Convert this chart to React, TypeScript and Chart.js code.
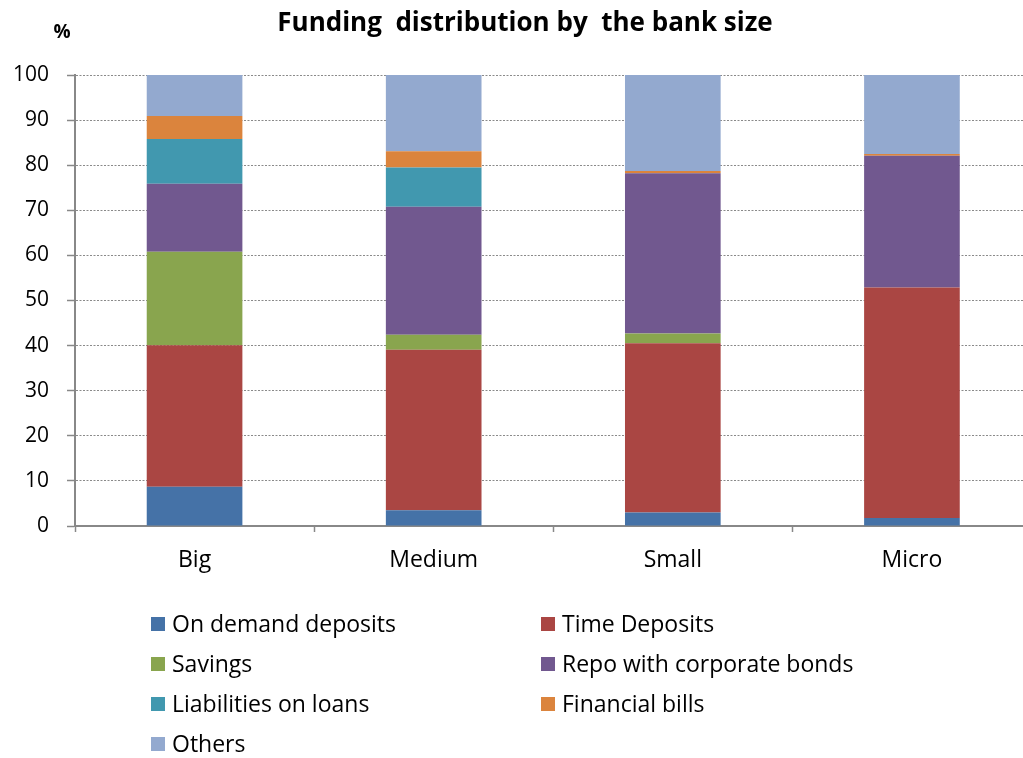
import React, { useEffect, useRef } from "react";
import { Chart, registerables } from "chart.js";

Chart.register(...registerables);

const categories = ["Big", "Medium", "Small", "Micro"];
const onDemandDeposits = [8.7, 3.5, 3.0, 1.8];
const timeDeposits = [31.4, 35.6, 37.5, 51.1];
const savings = [20.7, 3.3, 2.2, 0];
const repoCorporateBonds = [15.1, 28.4, 35.5, 29.2];
const liabilitiesOnLoans = [9.9, 8.7, 0, 0];
const financialBills = [5.1, 3.6, 0.5, 0.4];
const others = [9.1, 16.9, 21.3, 17.5];
const yTicks = [0, 10, 20, 30, 40, 50, 60, 70, 80, 90, 100];

const titleText = "Funding  distribution by  the bank size";
const unitText = "%";
const FONT = "'Open Sans', sans-serif";

const textPlugin = {
  id: "texts",
  afterDraw(chart: any) {
    const ctx = chart.ctx;
    ctx.save();
    ctx.fillStyle = "#000";
    ctx.textBaseline = "middle";
    ctx.textAlign = "center";
    ctx.font = `bold 26px ${FONT}`;
    ctx.fillText(titleText, 525, 24);
    ctx.font = `bold 19px ${FONT}`;
    ctx.fillText(unitText, 62, 33);

    // legend, two columns, row-major
    const ds = chart.data.datasets;
    ctx.font = `23px ${FONT}`;
    ctx.textAlign = "left";
    for (let i = 0; i < ds.length; i++) {
      const col = i % 2;
      const row = Math.floor(i / 2);
      const bx = 151 + col * 390;
      const cy = 624 + row * 40;
      ctx.fillStyle = ds[i].backgroundColor;
      ctx.fillRect(bx, cy - 7, 14, 14);
      ctx.fillStyle = "#000";
      ctx.fillText(ds[i].label, bx + 21, cy + 1.5);
    }
    ctx.restore();
  },
};

export default function App() {
  const ref = useRef<HTMLCanvasElement>(null);
  useEffect(() => {
    if (!ref.current) return;
    const chart = new Chart(ref.current, {
      type: "bar",
      data: {
        labels: categories,
        datasets: [
          { label: "On demand deposits", data: onDemandDeposits, backgroundColor: "#4572A7" },
          { label: "Time Deposits", data: timeDeposits, backgroundColor: "#AA4643" },
          { label: "Savings", data: savings, backgroundColor: "#89A54E" },
          { label: "Repo with corporate bonds", data: repoCorporateBonds, backgroundColor: "#71588F" },
          { label: "Liabilities on loans", data: liabilitiesOnLoans, backgroundColor: "#4198AF" },
          { label: "Financial bills", data: financialBills, backgroundColor: "#DB843D" },
          { label: "Others", data: others, backgroundColor: "#93A9CF" },
        ],
      },
      options: {
        responsive: false,
        animation: false,
        devicePixelRatio: 1,
        barPercentage: 0.4,
        categoryPercentage: 1,
        layout: { padding: { top: 75, left: 0, right: 8.5, bottom: 0 } },
        plugins: {
          legend: { display: false },
          title: { display: false },
          tooltip: { enabled: false },
        },
        scales: {
          x: {
            stacked: true,
            offset: true,
            grid: {
              display: true,
              drawOnChartArea: false,
              drawTicks: true,
              tickLength: 6,
              color: "#888",
              tickColor: "#888",
              tickWidth: 1.5,
              offset: true,
            },
            border: { color: "#888", width: 2 },
            ticks: { color: "#000", font: { family: FONT, size: 23 }, padding: 15 },
            afterFit: (s: any) => {
              s.height = 232;
            },
          },
          y: {
            stacked: true,
            min: 0,
            max: 100,
            afterBuildTicks: (s: any) => {
              s.ticks = yTicks.map((v) => ({ value: v }));
            },
            grid: {
              color: "#8a8a8a",
              lineWidth: 1,
              tickLength: 8,
              tickColor: "#888",
              tickWidth: 1.5,
              tickBorderDash: [],
            },
            border: { color: "#888", width: 2, dash: [2, 1.5] },
            ticks: { color: "#000", font: { family: FONT, size: 21 }, padding: 18 },
            afterFit: (s: any) => {
              s.width = 75;
            },
          },
        },
      },
      plugins: [textPlugin],
    });
    return () => chart.destroy();
  }, []);
  return (
    <div style={{ position: "fixed", left: 0, top: 0, width: 1023, height: 758, overflow: "hidden", background: "#fff" }}>
      <canvas ref={ref} width={1040} height={758} style={{ display: "block" }} />
    </div>
  );
}
